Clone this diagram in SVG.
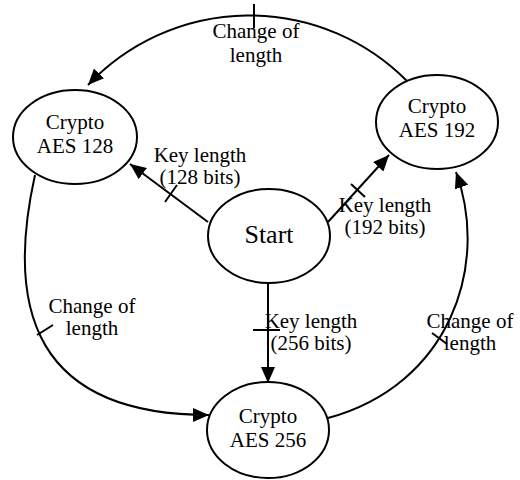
<svg xmlns="http://www.w3.org/2000/svg" width="520" height="480" viewBox="0 0 520 480">
<style>
.node ellipse{fill:#fff;stroke:#000;stroke-width:2}
text{font-family:"Liberation Serif","Times New Roman","DejaVu Serif",serif;font-size:21px;fill:#000;text-anchor:middle}
.conn path,.conn line{fill:none;stroke:#000;stroke-width:2}
</style>
<defs>
<marker id="ah" viewBox="0 0 16 14" refX="16" refY="7" markerWidth="16" markerHeight="14" markerUnits="userSpaceOnUse" orient="auto">
<path d="M0,0 L16,7 L0,14 z" fill="#000"/>
</marker>
</defs>
<g id="connectors" class="conn">
<path d="M407,81 A222,222 0 0 0 88,85" marker-end="url(#ah)"/>
<path d="M35,175 C5,310 35,415 209,415" marker-end="url(#ah)"/>
<path d="M328,418 C450,385 490,265 456,172" marker-end="url(#ah)"/>
<line x1="208" y1="222" x2="130" y2="164" marker-end="url(#ah)"/>
<line x1="328" y1="222" x2="389" y2="155" marker-end="url(#ah)"/>
<line x1="268" y1="283" x2="268" y2="383" marker-end="url(#ah)"/>
<line x1="254" y1="4" x2="254" y2="28"/>
<line x1="37" y1="335" x2="53" y2="325"/>
<line x1="432" y1="333" x2="447" y2="344"/>
<line x1="165" y1="202" x2="177" y2="185"/>
<line x1="351" y1="184" x2="365" y2="197"/>
<line x1="253" y1="330" x2="280" y2="330"/>
</g>
<g id="labels">
<text x="256" y="38">Change of</text>
<text x="256" y="62">length</text>
<text x="200" y="162">Key length</text>
<text x="200" y="184">(128 bits)</text>
<text x="385" y="212">Key length</text>
<text x="385" y="234">(192 bits)</text>
<text x="311" y="328">Key length</text>
<text x="311" y="350">(256 bits)</text>
<text x="92" y="313">Change of</text>
<text x="92" y="335">length</text>
<text x="470" y="328">Change of</text>
<text x="470" y="350">length</text>
</g>
<g id="aes128" class="node">
<ellipse cx="75" cy="137" rx="62" ry="47"/>
<text x="75" y="129">Crypto</text>
<text x="75" y="153">AES 128</text>
</g>
<g id="aes192" class="node">
<ellipse cx="437" cy="122" rx="61" ry="47"/>
<text x="437" y="113">Crypto</text>
<text x="437" y="137">AES 192</text>
</g>
<g id="start" class="node">
<ellipse cx="269" cy="236" rx="61" ry="47"/>
<text x="269" y="243" style="font-size:26px">Start</text>
</g>
<g id="aes256" class="node">
<ellipse cx="268" cy="430" rx="61" ry="48"/>
<text x="268" y="423">Crypto</text>
<text x="268" y="447">AES 256</text>
</g>
</svg>
